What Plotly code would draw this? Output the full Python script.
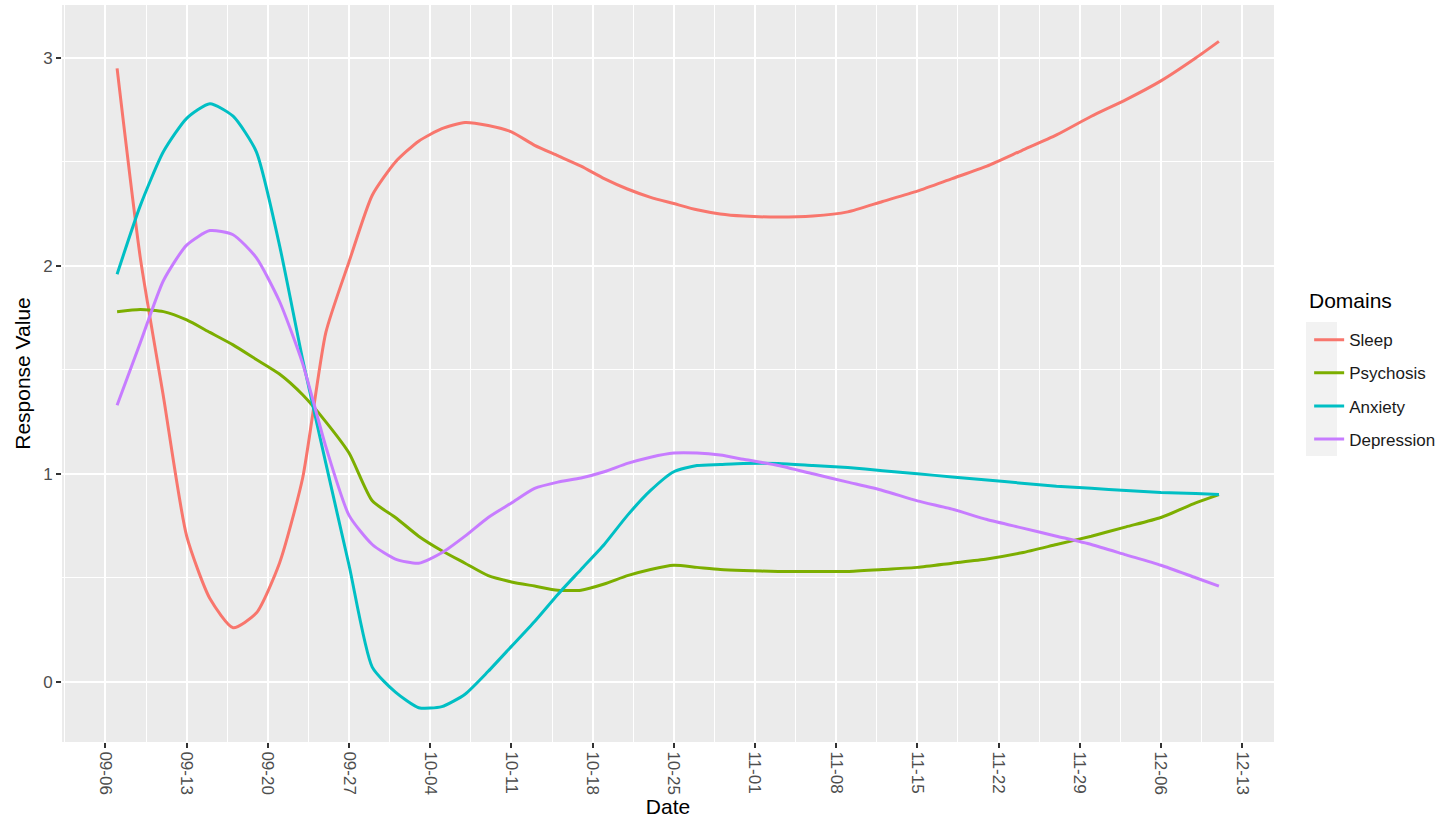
import plotly.graph_objects as go

# Observation dates (smoothed series sampled every 2-3 days)
dates = [
    "2020-09-07", "2020-09-09", "2020-09-11", "2020-09-13", "2020-09-15",
    "2020-09-17", "2020-09-19", "2020-09-21", "2020-09-23", "2020-09-25",
    "2020-09-27", "2020-09-29", "2020-10-01", "2020-10-03", "2020-10-05",
    "2020-10-07", "2020-10-09", "2020-10-11", "2020-10-13", "2020-10-15",
    "2020-10-17", "2020-10-19", "2020-10-21", "2020-10-23", "2020-10-25",
    "2020-10-27", "2020-10-29", "2020-10-31", "2020-11-03", "2020-11-06",
    "2020-11-09", "2020-11-12", "2020-11-15", "2020-11-18", "2020-11-21",
    "2020-11-24", "2020-11-27", "2020-11-30", "2020-12-03", "2020-12-06",
    "2020-12-09", "2020-12-11",
]

sleep = [
    2.95, 2.04, 1.37, 0.70, 0.40, 0.26, 0.33, 0.57, 0.98, 1.68,
    2.02, 2.34, 2.50, 2.60, 2.66, 2.69, 2.675, 2.645, 2.58, 2.53,
    2.48, 2.42, 2.37, 2.33, 2.30, 2.27, 2.25, 2.24, 2.235, 2.24,
    2.26, 2.31, 2.36, 2.42, 2.48, 2.555, 2.63, 2.72, 2.80, 2.89,
    3.00, 3.08,
]

psychosis = [
    1.78, 1.79, 1.78, 1.74, 1.68, 1.62, 1.55, 1.48, 1.38, 1.25,
    1.10, 0.87, 0.79, 0.70, 0.63, 0.57, 0.51, 0.48, 0.46, 0.44,
    0.44, 0.47, 0.51, 0.54, 0.56, 0.55, 0.54, 0.535, 0.53, 0.53,
    0.53, 0.54, 0.55, 0.57, 0.59, 0.62, 0.66, 0.70, 0.745, 0.79,
    0.86, 0.90,
]

anxiety = [
    1.96, 2.29, 2.55, 2.71, 2.78, 2.72, 2.55, 2.10, 1.55, 1.05,
    0.56, 0.07, -0.05, -0.125, -0.12, -0.06, 0.05, 0.17, 0.29, 0.42,
    0.54, 0.66, 0.80, 0.92, 1.01, 1.04, 1.045, 1.05, 1.05, 1.04,
    1.03, 1.015, 1.00, 0.985, 0.97, 0.955, 0.94, 0.93, 0.92, 0.91,
    0.905, 0.90,
]

depression = [
    1.33, 1.63, 1.93, 2.10, 2.17, 2.15, 2.04, 1.83, 1.53, 1.13,
    0.80, 0.66, 0.59, 0.57, 0.62, 0.70, 0.79, 0.86, 0.93, 0.96,
    0.98, 1.01, 1.05, 1.08, 1.10, 1.10, 1.09, 1.07, 1.04, 1.00,
    0.96, 0.92, 0.87, 0.83, 0.78, 0.74, 0.70, 0.66, 0.61, 0.56,
    0.50, 0.46,
]

domains = ["Sleep", "Psychosis", "Anxiety", "Depression"]
colors = ["#F8766D", "#7CAE00", "#00BFC4", "#C77CFF"]

tick_dates = [
    "2020-09-06", "2020-09-13", "2020-09-20", "2020-09-27", "2020-10-04",
    "2020-10-11", "2020-10-18", "2020-10-25", "2020-11-01", "2020-11-08",
    "2020-11-15", "2020-11-22", "2020-11-29", "2020-12-06", "2020-12-13",
]
tick_labels = [
    "09-06", "09-13", "09-20", "09-27", "10-04", "10-11", "10-18", "10-25",
    "11-01", "11-08", "11-15", "11-22", "11-29", "12-06", "12-13",
]

series = [sleep, psychosis, anxiety, depression]

fig = go.Figure()
for name, vals, col in zip(domains, series, colors):
    fig.add_trace(go.Scatter(
        x=dates, y=vals, name=name, mode="lines",
        line=dict(color=col, width=3, shape="spline", smoothing=0.6),
        legendgroup=name,
    ))

# Light grey key background behind the legend glyphs (ggplot style)
fig.add_shape(
    type="rect", xref="paper", yref="paper", layer="below",
    x0=1.0264, x1=1.0520, y0=0.388, y1=0.570,
    fillcolor="#F2F2F2", line=dict(width=0),
)

# Legend heading
fig.add_annotation(
    text="Domains", xref="paper", yref="paper",
    x=1.0272, y=0.5997, xanchor="left", yanchor="middle",
    showarrow=False, font=dict(size=21, color="#000000"),
)

grid_major = "#FFFFFF"
axis_font = dict(family="Liberation Sans, Arial, sans-serif", size=17, color="#4D4D4D")

fig.update_layout(
    width=1439, height=818,
    margin=dict(l=62, r=165, t=5, b=76, autoexpand=False),
    paper_bgcolor="white",
    plot_bgcolor="#EBEBEB",
    font=dict(family="Liberation Sans, Arial, sans-serif", color="#000000"),
    showlegend=True,
    legend=dict(
        font=dict(size=17, color="#1A1A1A"),
        x=1.029, xanchor="left", y=0.5697, yanchor="top",
        bgcolor="rgba(0,0,0,0)",
        tracegroupgap=8,
        itemwidth=30,
    ),
    xaxis=dict(
        type="date",
        range=["2020-09-02 06:00", "2020-12-15 18:00"],
        tickmode="array", tickvals=tick_dates, ticktext=tick_labels,
        tickangle=90,
        tickfont=axis_font,
        ticks="outside", ticklen=5, tickwidth=1.5, tickcolor="#333333",
        showgrid=True, gridcolor=grid_major, gridwidth=2,
        minor=dict(dtick=7 * 86400000, tick0="2020-09-09 12:00",
                   showgrid=True, gridcolor=grid_major, gridwidth=1, ticks=""),
        zeroline=False, showline=False,
        title=dict(text="Date", font=dict(size=21, color="#000000"), standoff=2),
    ),
    yaxis=dict(
        range=[-0.29, 3.255],
        tickmode="array", tickvals=[0, 1, 2, 3], ticktext=["0", "1", "2", "3"],
        tickfont=axis_font,
        ticks="outside", ticklen=5, tickwidth=1.5, tickcolor="#333333",
        showgrid=True, gridcolor=grid_major, gridwidth=2,
        minor=dict(tickmode="array", tickvals=[0.5, 1.5, 2.5],
                   showgrid=True, gridcolor=grid_major, gridwidth=1, ticks=""),
        zeroline=False, showline=False,
        title=dict(text="Response Value", font=dict(size=21, color="#000000"), standoff=6),
    ),
)

fig.write_html("out.html")
